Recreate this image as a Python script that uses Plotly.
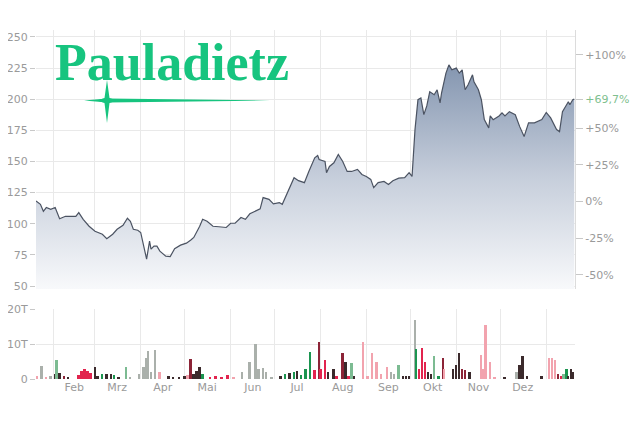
import plotly.graph_objects as go

# ---------------- data ----------------
price_dates = [
    "2018-01-20", "2018-01-23", "2018-01-25", "2018-01-27", "2018-01-30", "2018-02-02", "2018-02-05",
    "2018-02-09", "2018-02-16", "2018-02-18", "2018-02-21", "2018-02-25", "2018-03-01", "2018-03-06",
    "2018-03-09", "2018-03-13", "2018-03-16", "2018-03-20", "2018-03-23", "2018-03-25", "2018-03-27",
    "2018-03-30", "2018-04-01", "2018-04-03", "2018-04-05", "2018-04-07", "2018-04-08", "2018-04-10",
    "2018-04-12", "2018-04-14", "2018-04-18", "2018-04-21", "2018-04-24", "2018-04-28", "2018-05-02",
    "2018-05-05", "2018-05-07", "2018-05-11", "2018-05-13", "2018-05-16", "2018-05-20", "2018-05-24",
    "2018-05-29", "2018-06-01", "2018-06-04", "2018-06-08", "2018-06-11", "2018-06-14", "2018-06-18",
    "2018-06-21", "2018-06-23", "2018-06-27", "2018-06-30", "2018-07-04", "2018-07-06", "2018-07-09",
    "2018-07-14", "2018-07-17", "2018-07-21", "2018-07-24", "2018-07-28", "2018-07-30", "2018-07-31",
    "2018-08-04", "2018-08-05", "2018-08-07", "2018-08-10", "2018-08-13", "2018-08-16", "2018-08-19",
    "2018-08-22", "2018-08-26", "2018-08-29", "2018-09-01", "2018-09-04", "2018-09-06", "2018-09-09",
    "2018-09-13", "2018-09-16", "2018-09-19", "2018-09-23", "2018-09-27", "2018-09-30", "2018-10-02",
    "2018-10-04", "2018-10-06", "2018-10-08", "2018-10-10", "2018-10-12", "2018-10-14", "2018-10-17",
    "2018-10-19", "2018-10-21", "2018-10-22", "2018-10-25", "2018-10-27", "2018-10-29", "2018-11-01",
    "2018-11-03", "2018-11-05", "2018-11-07", "2018-11-09", "2018-11-12", "2018-11-13", "2018-11-16",
    "2018-11-18", "2018-11-20", "2018-11-23", "2018-11-24", "2018-11-26", "2018-11-30", "2018-12-02",
    "2018-12-04", "2018-12-07", "2018-12-11", "2018-12-14", "2018-12-17", "2018-12-20", "2018-12-24",
    "2018-12-29", "2019-01-01", "2019-01-04", "2019-01-08", "2019-01-10", "2019-01-12", "2019-01-16",
    "2019-01-17", "2019-01-19", "2019-01-20",
]
price_values = [
    118.2, 115.6, 110, 113, 111.6, 113, 104,
    106, 106, 109, 103.6, 98, 94, 91.6,
    88, 91.6, 95.6, 98.8, 104.4, 102, 95.6,
    94.8, 93, 82.4, 71.6, 86, 79.6, 82,
    82, 78, 74, 73.6, 80, 82.8, 84.4,
    87, 89, 98, 103.6, 102, 98, 97.6,
    97, 100.4, 100.4, 105, 103.6, 108, 110,
    112, 121, 119.6, 116, 117, 115.6, 123.6,
    137, 134.6, 133, 142, 153, 154.8, 151.6,
    150, 141, 146, 149, 155.6, 150, 142,
    142, 143.6, 139.6, 138, 135.6, 129, 133,
    134, 131.6, 134.6, 136.6, 137, 141, 138,
    175.6, 199.6, 201, 187.6, 194.6, 206, 203.6,
    207.6, 197, 205, 221, 227.6, 223.6, 225,
    221, 223.6, 207.6, 211.6, 219.6, 214, 207.6,
    199.6, 183.6, 177, 186.6, 183.6, 186.6, 189,
    186.6, 190, 187.6, 178, 170, 181, 181,
    183.6, 189.4, 185, 175.6, 174, 190, 198,
    195.6, 199.6, 200.1,
]
base_price = 117.9  # reference price for the percentage axis

vol_dates = [
    "2018-01-21", "2018-01-24", "2018-01-27", "2018-01-30", "2018-02-02", "2018-02-03", "2018-02-05",
    "2018-02-08", "2018-02-11", "2018-02-18", "2018-02-20", "2018-02-22", "2018-02-24", "2018-02-26",
    "2018-03-01", "2018-03-03", "2018-03-06", "2018-03-09", "2018-03-12", "2018-03-14", "2018-03-17",
    "2018-03-22", "2018-03-25", "2018-03-31", "2018-04-03", "2018-04-05", "2018-04-06", "2018-04-08",
    "2018-04-11", "2018-04-14", "2018-04-20", "2018-04-23", "2018-04-27", "2018-05-01", "2018-05-03",
    "2018-05-05", "2018-05-07", "2018-05-09", "2018-05-11", "2018-05-13", "2018-05-18", "2018-05-22",
    "2018-05-26", "2018-05-30", "2018-06-03", "2018-06-09", "2018-06-14", "2018-06-18", "2018-06-20",
    "2018-06-23", "2018-06-25", "2018-06-29", "2018-07-05", "2018-07-08", "2018-07-11", "2018-07-14",
    "2018-07-16", "2018-07-19", "2018-07-22", "2018-07-25", "2018-07-28", "2018-07-31", "2018-08-01",
    "2018-08-04", "2018-08-06", "2018-08-10", "2018-08-12", "2018-08-16", "2018-08-18", "2018-08-20",
    "2018-08-22", "2018-08-24", "2018-08-30", "2018-09-02", "2018-09-05", "2018-09-08", "2018-09-11",
    "2018-09-15", "2018-09-18", "2018-09-20", "2018-09-23", "2018-09-26", "2018-09-28", "2018-09-30",
    "2018-10-04", "2018-10-05", "2018-10-07", "2018-10-09", "2018-10-11", "2018-10-13", "2018-10-15",
    "2018-10-17", "2018-10-20", "2018-10-23", "2018-10-24", "2018-10-30", "2018-11-01", "2018-11-03",
    "2018-11-05", "2018-11-07", "2018-11-10", "2018-11-18", "2018-11-19", "2018-11-21", "2018-11-24",
    "2018-11-27", "2018-12-04", "2018-12-12", "2018-12-14", "2018-12-16", "2018-12-19", "2018-12-29",
    "2019-01-03", "2019-01-05", "2019-01-07", "2019-01-09", "2019-01-11", "2019-01-13", "2019-01-15",
    "2019-01-16", "2019-01-18", "2019-01-19",
]
vol_values = [
    800, 3700, 600, 1000, 1500, 5400, 1800,
    800, 500, 1200, 2200, 3000, 2400, 1800,
    3300, 1000, 1400, 1500, 1300, 1200, 600,
    3300, 600, 1500, 3500, 5900, 8000, 2000,
    8300, 2000, 800, 500, 600, 1000, 1200,
    5600, 1500, 2200, 3500, 1500, 600, 800,
    600, 1200, 500, 2000, 5000, 10000, 3000,
    3200, 2000, 600, 1000, 1500, 1800, 2000,
    2200, 1200, 2800, 7800, 2500, 10700, 3000,
    5500, 2000, 3000, 1000, 7500, 5000, 1000,
    4500, 1000, 10500, 1000, 7500, 5000, 1500,
    3500, 2000, 1500, 4000, 800, 800, 1000,
    16900, 8500, 3000, 9000, 5000, 2000, 1500,
    6600, 1000, 6000, 3000, 3000, 4000, 7500,
    3000, 2500, 2000, 7000, 3000, 15400, 5000,
    600, 500, 2000, 4000, 6500, 1000, 1000,
    6000, 6000, 5500, 1500, 1000, 1500, 3000,
    1000, 3000, 2000,
]
# g = up (green), r = down (red), d = dark, b = dark red, p = light red, s = grey, l = light green
vol_kinds = [
    "p", "s", "p", "s", "d", "l", "d",
    "b", "d", "r", "r", "r", "r", "r",
    "d", "d", "g", "d", "d", "g", "d",
    "l", "s", "s", "s", "s", "s", "s",
    "s", "p", "d", "d", "d", "d", "p",
    "b", "d", "d", "d", "g", "r", "r",
    "r", "r", "p", "s", "s", "s", "s",
    "s", "s", "s", "d", "g", "d", "g",
    "d", "g", "g", "g", "r", "b", "r",
    "r", "d", "d", "r", "b", "d", "r",
    "l", "d", "p", "p", "p", "p", "p",
    "p", "s", "s", "l", "d", "d", "d",
    "s", "g", "r", "r", "r", "d", "d",
    "l", "g", "b", "p", "d", "d", "d",
    "b", "b", "d", "p", "p", "p", "p",
    "p", "d", "s", "d", "d", "d", "d",
    "p", "p", "p", "b", "r", "l", "g",
    "d", "d", "d",
]

month_labels = ["Feb", "Mrz", "Apr", "Mai", "Jun", "Jul", "Aug", "Sep", "Okt", "Nov", "Dez"]
month_starts = ["2018-02-01", "2018-03-01", "2018-04-01", "2018-05-01", "2018-06-01", "2018-07-01",
                "2018-08-01", "2018-09-01", "2018-10-01", "2018-11-01", "2018-12-01", "2019-01-01"]
month_mids = ["2018-02-15", "2018-03-16", "2018-04-16", "2018-05-16", "2018-06-16", "2018-07-16",
              "2018-08-16", "2018-09-16", "2018-10-16", "2018-11-16", "2018-12-16"]

price_ticks = [50, 75, 100, 125, 150, 175, 200, 225, 250]
pct_ticks = [-50, -25, 0, 25, 50, 69.7, 100]
pct_labels = ["-50%", "-25%", "0%", "+25%", "+50%", "+69,7%", "+100%"]
vol_ticks = [0, 10000, 20000]
vol_labels = ["0", "10T", "20T"]

# ---------------- styling ----------------
# The page body has an 8px margin, so the figure is shrunk by that amount and
# all layout positions below are expressed in window pixels.
OFF = 8
W, H = 640 - OFF, 427 - OFF
PLOT_LEFT, PLOT_RIGHT = 36, 575
PLOT_TOP, PRICE_BOTTOM, VOL_TOP, PLOT_BOTTOM = 30, 289, 309, 379
ML = PLOT_LEFT - OFF
MR = W - (PLOT_RIGHT - OFF)
MT = PLOT_TOP - OFF
MB = H - (PLOT_BOTTOM - OFF)
plot_h = PLOT_BOTTOM - PLOT_TOP
plot_w = PLOT_RIGHT - PLOT_LEFT

def px(x):
    return (x - PLOT_LEFT) / plot_w

def py(y):
    return (PLOT_BOTTOM - y) / plot_h

price_range = [47.6, 255.6]
pct_range = [(v / base_price - 1) * 100 for v in price_range]
pct_values = [(v / base_price - 1) * 100 for v in price_values]

kind_colors = {
    "g": "#1b9550", "r": "#e2244e", "d": "#3b2a2c", "b": "#8c2437",
    "p": "#f2a3ae", "s": "#aab0ab", "l": "#7cbb92",
}
tick_font = dict(family="DejaVu Sans", size=11, color="#9a9a9a")
grid = "#e9e9e9"
logo_green = "#17c47f"

fig = go.Figure()

fig.add_trace(go.Scatter(
    x=price_dates, y=price_values, mode="lines",
    line=dict(color="#4b5362", width=1.2),
    fill="tozeroy",
    fillgradient=dict(type="vertical", start=price_range[0], stop=max(price_values),
                      colorscale=[[0, "rgb(248,249,251)"], [0.5, "rgb(198,206,219)"],
                                  [1, "rgb(132,150,176)"]]),
    hoverinfo="skip", showlegend=False, xaxis="x", yaxis="y",
))
fig.add_trace(go.Scatter(
    x=price_dates, y=pct_values, mode="lines", line=dict(width=0, color="rgba(0,0,0,0)"),
    hoverinfo="skip", showlegend=False, xaxis="x", yaxis="y3",
))
fig.add_trace(go.Bar(
    x=vol_dates, y=vol_values, marker=dict(color=[kind_colors[k] for k in vol_kinds], line=dict(width=0)),
    width=86400000 * 1.3, hoverinfo="skip", showlegend=False, xaxis="x", yaxis="y2",
))

pct_text = [f"<span style='color:#7fbf8f'>{t}</span>" if t == "+69,7%" else t for t in pct_labels]

fig.update_layout(
    width=W, height=H,
    margin=dict(l=ML, r=MR, t=MT, b=MB, autoexpand=False),
    paper_bgcolor="white", plot_bgcolor="white",
    bargap=0,
    xaxis=dict(
        anchor="y2", domain=[0, 1], type="date", automargin=False,
        range=["2018-01-20", "2019-01-20 12:00"],
        tickvals=month_mids, ticktext=month_labels, ticks="", showgrid=False,
        tickfont=tick_font, zeroline=False, showline=False,
        minor=dict(tickvals=month_starts, showgrid=True, gridcolor=grid, gridwidth=1, ticks=""),
    ),
    yaxis=dict(
        anchor="x", domain=[py(PRICE_BOTTOM), 1], range=price_range, automargin=False,
        tickvals=price_ticks, ticks="outside", ticklen=5, tickcolor="#c8c8c8",
        tickfont=tick_font, gridcolor=grid, zeroline=False, showline=False,
    ),
    yaxis3=dict(
        overlaying="y", side="right", anchor="x", range=pct_range, automargin=False,
        tickvals=pct_ticks, ticktext=pct_text, ticks="outside", ticklen=7, tickcolor="#c8c8c8",
        tickfont=tick_font, showgrid=False, zeroline=False,
        showline=True, linecolor="#dcdcdc", linewidth=1,
    ),
    yaxis2=dict(
        anchor="x", domain=[0, py(VOL_TOP)], range=[0, 20000], automargin=False,
        tickvals=vol_ticks, ticktext=vol_labels, ticks="outside", ticklen=5, tickcolor="#c8c8c8",
        tickfont=tick_font, gridcolor=grid, zeroline=False, showline=False,
    ),
)

# logo
fig.add_annotation(
    x=px(172), y=py(62), xref="paper", yref="paper", text="<b>Pauladietz</b>",
    showarrow=False, xanchor="center", yanchor="middle",
    font=dict(family="Liberation Serif", size=52, color=logo_green),
)
fig.add_shape(type="path", xref="paper", yref="paper",
              path=(f"M {px(84)},{py(100.5)} L {px(107)},{py(98.5)} L {px(270)},{py(100.5)} "
                    f"L {px(107)},{py(102.5)} Z"),
              fillcolor=logo_green, line=dict(width=0))
fig.add_shape(type="path", xref="paper", yref="paper",
              path=(f"M {px(107)},{py(80)} L {px(109.5)},{py(98)} L {px(117)},{py(100.5)} "
                    f"L {px(109.5)},{py(103)} L {px(107)},{py(123)} L {px(104.5)},{py(103)} "
                    f"L {px(97)},{py(100.5)} L {px(104.5)},{py(98)} Z"),
              fillcolor=logo_green, line=dict(width=0))

fig.write_html("out.html")
